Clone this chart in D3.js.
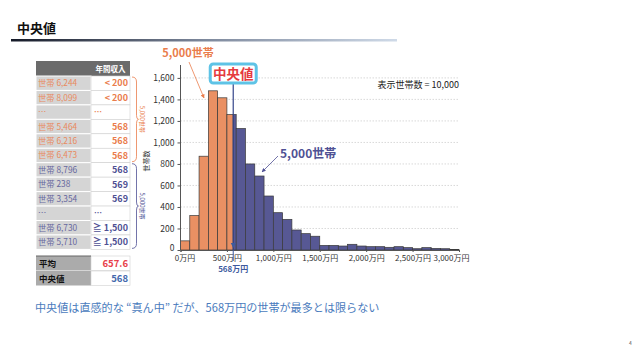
<!DOCTYPE html>
<html><head><meta charset="utf-8">
<script src="https://cdn.jsdelivr.net/npm/d3@7"></script>
<style>
body{margin:0;background:#fff;}
svg{display:block;font-family:"Noto Sans CJK JP","Noto Sans",sans-serif;}
</style>
</head><body><svg id="c" width="640" height="359"></svg>
<script>
// ---- data ----
const binStarts = [0,100,200,300,400,500,600,700,800,900,1000,1100,1200,1300,1400,1500,1600,1700,1800,1900,2000,2100,2200,2300,2400,2500,2600,2700,2800,2900];
const counts    = [85,320,872,1480,1415,1260,1130,800,688,502,347,285,186,152,128,43,43,37,53,37,31,31,25,31,22,12,22,15,12,6];
const binWidth = 100;
const medianIncome = 568;
const meanIncome = 657.6;
const totalHouseholds = 10000;
const halfHouseholds = 5000;
const yTicks = [0,200,400,600,800,1000,1200,1400,1600];
const xTicks = [0,500,1000,1500,2000,2500,3000];
const tableIds = ["世帯 6,244","世帯 8,099","…","世帯 5,464","世帯 6,216","世帯 6,473","世帯 8,796","世帯 238","世帯 3,354","…","世帯 6,730","世帯 5,710"];
const tableIncome = ["< 200","< 200","…","568","568","568","568","569","569","…","≧ 1,500","≧ 1,500"];
const tableGroup = ["lo","lo","lo","lo","lo","lo","hi","hi","hi","hi","hi","hi"];

// ---- colours ----
const ORANGE = "#ea9063", BLUE = "#575894";
const ORANGE_T = "#ea7d4c", ORANGE_L = "#e88a60", BLUE_T = "#4f5194", BLUE_L = "#66679e";

const svg = d3.select("#c");
svg.append("rect").attr("width",640).attr("height",359).attr("fill","#fff");

// ---- title ----
const defs = svg.append("defs");
const g1 = defs.append("linearGradient").attr("id","tg");
g1.append("stop").attr("offset","0").attr("stop-color","#151a28");
g1.append("stop").attr("offset","0.5").attr("stop-color","#7d889c");
g1.append("stop").attr("offset","1").attr("stop-color","#cfdae8");
svg.append("text").attr("x",17).attr("y",33).attr("font-size",13).attr("font-weight","bold").attr("fill","#111").text("中央値");
svg.append("rect").attr("x",11).attr("y",39).attr("width",386).attr("height",2.5).attr("fill","url(#tg)");

// ---- marker defs ----
function marker(id,color){
  defs.append("marker").attr("id",id).attr("viewBox","0 0 10 10").attr("refX",9).attr("refY",5)
   .attr("markerWidth",5).attr("markerHeight",5).attr("orient","auto")
   .append("path").attr("d","M0,0L10,5L0,10z").attr("fill",color);
}
marker("ao",ORANGE_T); marker("ab",BLUE_T);

// ---- scales ----
const x = d3.scaleLinear().domain([0,3000]).range([180.5,459]);
const y = d3.scaleLinear().domain([0,1720]).range([250,65]);

// gridlines
svg.append("g").selectAll("line").data(yTicks.filter(d=>d>0)).join("line")
  .attr("x1",x(0)).attr("x2",x(3000)).attr("y1",d=>y(d)).attr("y2",d=>y(d))
  .attr("stroke","#cfcfcf").attr("stroke-width",0.8).attr("stroke-dasharray","1.5,1.5");

// bars (split at median)
const segs = [];
binStarts.forEach((s,i)=>{
  const e = s+binWidth;
  if (e <= medianIncome) segs.push({a:s,b:e,v:counts[i],c:ORANGE});
  else if (s >= medianIncome) segs.push({a:s,b:e,v:counts[i],c:BLUE});
  else { segs.push({a:s,b:medianIncome,v:counts[i],c:ORANGE}); segs.push({a:medianIncome,b:e,v:counts[i],c:BLUE}); }
});
svg.append("g").selectAll("rect").data(segs).join("rect")
  .attr("x",d=>x(d.a)).attr("width",d=>x(d.b)-x(d.a))
  .attr("y",d=>y(d.v)).attr("height",d=>y(0)-y(d.v))
  .attr("fill",d=>d.c).attr("stroke","#3a3a3a").attr("stroke-width",0.7);

// y axis
const ya = svg.append("g").attr("transform",`translate(${x(0)},0)`)
  .call(d3.axisLeft(y).tickValues(yTicks).tickSize(3).tickPadding(3).tickFormat(d3.format(",")));
ya.select(".domain").attr("stroke","#555").attr("d",`M-0,${y(1720)}V${y(0)}`);
ya.selectAll(".tick line").attr("stroke","#555");
ya.selectAll("text").attr("font-size",8.5).attr("fill","#333").attr("font-family","Noto Sans CJK JP");
ya.selectAll(".tick").filter(d=>d===0).select("text").attr("dy","0.1em");
svg.append("text").attr("transform","translate(149,161) rotate(-90)").attr("text-anchor","middle")
  .attr("font-size",7).attr("fill","#333").text("世帯数");

// x axis
const xa = svg.append("g").attr("transform",`translate(0,${y(0)})`)
  .call(d3.axisBottom(x).tickValues(xTicks).tickSize(2).tickPadding(3).tickFormat(d=>d3.format(",")(d)+"万円"));
xa.select(".domain").attr("stroke","#555");
xa.selectAll(".tick line").attr("stroke","#555");
xa.selectAll("text").attr("font-size",8).attr("fill","#333").attr("font-family","Noto Sans CJK JP");
xa.selectAll(".tick").filter(d=>d===3000).select("text").attr("dx",-8);
xa.selectAll(".tick").filter(d=>d===0).select("text").attr("dx",4);

// median line + callout
const mx = x(medianIncome);
svg.append("line").attr("x1",mx).attr("x2",mx).attr("y1",83).attr("y2",y(0)).attr("stroke","#34458a").attr("stroke-width",1.2);
svg.append("rect").attr("x",mx-23).attr("y",64).attr("width",46).attr("height",19).attr("rx",3)
  .attr("fill","#fff").attr("stroke","#5ec3e6").attr("stroke-width",3);
svg.append("text").attr("x",mx).attr("y",79).attr("text-anchor","middle").attr("font-size",13.5)
  .attr("font-weight","bold").attr("fill","#e53a3e").text("中央値");
svg.append("path").attr("d",`M${mx-2.5},${y(0)-7}L${mx+2.5},${y(0)-7}L${mx},${y(0)-2}z`).attr("fill","#3d5a9e");
svg.append("line").attr("x1",mx).attr("x2",mx).attr("y1",y(0)).attr("y2",y(0)+11).attr("stroke","#3d5a9e").attr("stroke-width",1);
svg.append("text").attr("x",mx).attr("y",272).attr("text-anchor","middle").attr("font-size",8)
  .attr("font-weight","bold").attr("fill","#3d5a9e").text(d3.format(",")(medianIncome)+"万円");

// annotations
svg.append("text").attr("x",x(3000)).attr("y",88).attr("text-anchor","end").attr("font-size",9).attr("fill","#222")
  .text("表示世帯数 = "+d3.format(",")(totalHouseholds));
svg.append("text").attr("x",188).attr("y",57).attr("text-anchor","middle").attr("font-size",11).attr("font-weight","bold")
  .attr("fill",ORANGE_T).text(d3.format(",")(halfHouseholds)+"世帯");
svg.append("line").attr("x1",189).attr("y1",62).attr("x2",204).attr("y2",98).attr("stroke",ORANGE_T).attr("stroke-width",0.8).attr("marker-end","url(#ao)");
svg.append("text").attr("x",280).attr("y",158).attr("font-size",12).attr("font-weight","bold")
  .attr("fill",BLUE_T).text(d3.format(",")(halfHouseholds)+"世帯");
svg.append("line").attr("x1",278).attr("y1",156).attr("x2",262).attr("y2",172).attr("stroke",BLUE_T).attr("stroke-width",0.8).attr("marker-end","url(#ab)");

// ---- table ----
const T = {x0:36, x1:91, x2:130, top:61, hh:15, rh:14.45};
const tb = svg.append("g");
tb.append("rect").attr("x",T.x0).attr("y",T.top).attr("width",T.x2-T.x0).attr("height",T.hh).attr("fill","#6b6b6b");
tb.append("text").attr("x",(T.x1+T.x2)/2).attr("y",T.top+10.5).attr("text-anchor","middle").attr("font-size",7.5)
  .attr("font-weight","bold").attr("fill","#fff").text("年間収入");
tableIds.forEach((id,i)=>{
  const ry = T.top+T.hh+i*T.rh;
  const lo = tableGroup[i]==="lo";
  tb.append("rect").attr("x",T.x0).attr("y",ry).attr("width",T.x1-T.x0).attr("height",T.rh)
    .attr("fill","#d5d5d5").attr("stroke","#fff").attr("stroke-width",1);
  tb.append("rect").attr("x",T.x1).attr("y",ry).attr("width",T.x2-T.x1).attr("height",T.rh)
    .attr("fill","#fff").attr("stroke","#d0d0d0").attr("stroke-width",0.6);
  tb.append("text").attr("x",T.x0+2).attr("y",ry+10.2).attr("font-size",8.3)
    .attr("fill",lo?ORANGE_L:BLUE_L).text(id);
  const inc = tableIncome[i];
  tb.append("text").attr("x",inc==="…"?T.x1+3:T.x2-2).attr("y",ry+10.4).attr("text-anchor",inc==="…"?"start":"end")
    .attr("font-size",inc==="…"?8:9).attr("font-weight","bold").attr("fill",lo?ORANGE_T:BLUE_T).text(inc);
});
// summary rows
const sy = 256, sh = 14.5;
[["平均",d3.format(".1f")(meanIncome),"#e8404a"],["中央値",String(medianIncome),"#4569ad"]].forEach((r,i)=>{
  const ry = sy+i*(sh+0.5);
  tb.append("rect").attr("x",T.x0).attr("y",ry).attr("width",T.x1-T.x0).attr("height",sh).attr("fill","#ababab");
  tb.append("rect").attr("x",T.x1).attr("y",ry).attr("width",T.x2-T.x1).attr("height",sh).attr("fill","#fff").attr("stroke","#d0d0d0").attr("stroke-width",0.6);
  tb.append("text").attr("x",T.x0+3).attr("y",ry+10.5).attr("font-size",8.5).attr("font-weight","bold").attr("fill","#111").text(r[0]);
  tb.append("text").attr("x",T.x2-2).attr("y",ry+10.5).attr("text-anchor","end").attr("font-size",9.5).attr("font-weight","bold").attr("fill",r[2]).text(r[1]);
});
tb.append("line").attr("x1",T.x0).attr("x2",T.x1).attr("y1",sy).attr("y2",sy).attr("stroke","#666").attr("stroke-width",1);

// braces
function brace(y0,y1){
  const xa=132, xb=136.5, m=(y0+y1)/2;
  return `M${xa},${y0} Q${xb},${y0} ${xb},${y0+5} L${xb},${m-4} Q${xb},${m} ${xb+2},${m} Q${xb},${m} ${xb},${m+4} L${xb},${y1-5} Q${xb},${y1} ${xa},${y1}`;
}
const r0 = T.top+T.hh, r6 = r0+6*T.rh, r12 = r0+12*T.rh;
svg.append("path").attr("d",brace(r0+1,r6-1)).attr("fill","none").attr("stroke",ORANGE_T).attr("stroke-width",0.8);
svg.append("path").attr("d",brace(r6+1,r12-1)).attr("fill","none").attr("stroke",BLUE_T).attr("stroke-width",0.8);
svg.append("text").attr("transform",`translate(140,${(r0+r6)/2}) rotate(90)`).attr("text-anchor","middle").attr("font-size",6)
  .attr("fill",ORANGE_T).text(d3.format(",")(halfHouseholds)+"世帯");
svg.append("text").attr("transform",`translate(140,${(r6+r12)/2}) rotate(90)`).attr("text-anchor","middle").attr("font-size",6)
  .attr("fill",BLUE_T).text(d3.format(",")(halfHouseholds)+"世帯");

// caption
svg.append("text").attr("x",35).attr("y",312).attr("font-size",11.1).attr("fill","#4a7bbd")
  .text("中央値は直感的な “真ん中” だが、568万円の世帯が最多とは限らない");
svg.append("text").attr("x",629).attr("y",345).attr("font-size",5).attr("fill","#555").text("4");
</script></body></html>
